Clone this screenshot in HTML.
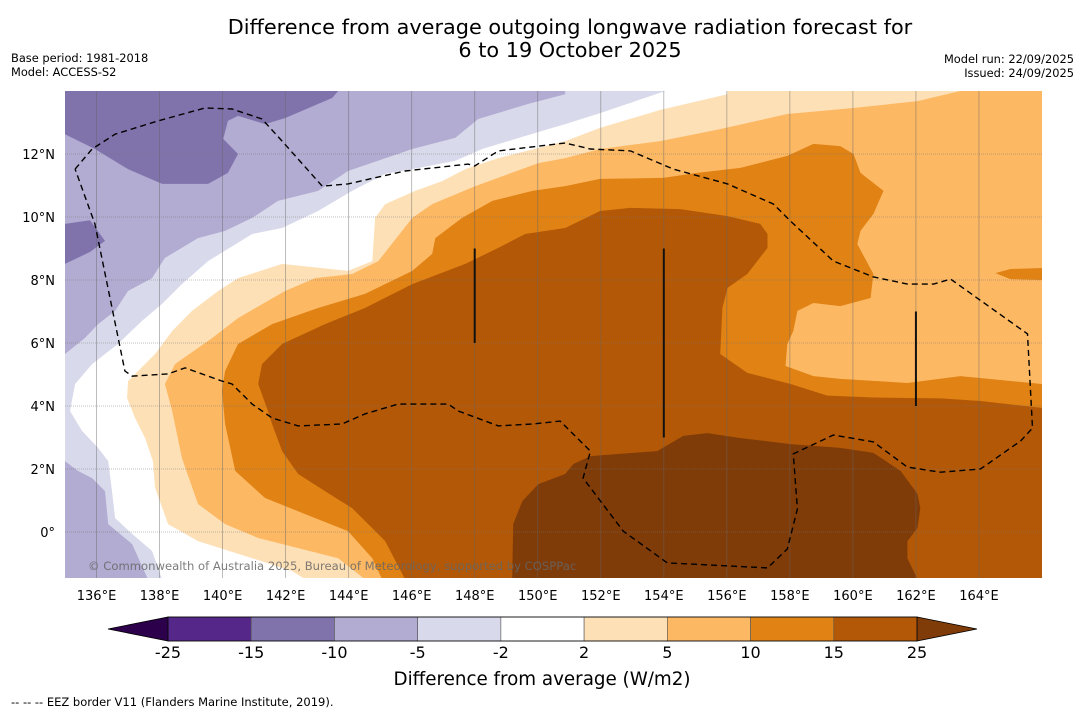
<!DOCTYPE html>
<html><head><meta charset="utf-8">
<style>
html,body{margin:0;padding:0;background:#fff;}
body{width:1085px;height:713px;overflow:hidden;font-family:"DejaVu Sans","Liberation Sans",sans-serif;}
svg text{font-family:"DejaVu Sans","Liberation Sans",sans-serif;}
</style></head>
<body>
<svg id="chart" width="1085" height="713" viewBox="0 0 1085 713" xmlns="http://www.w3.org/2000/svg">
<text x="570" y="34" font-size="20.8" text-anchor="middle" fill="#000">Difference from average outgoing longwave radiation forecast for</text>
<text x="570" y="57" font-size="20.8" text-anchor="middle" fill="#000">6 to 19 October 2025</text>
<text x="11" y="62" font-size="11.4">Base period: 1981-2018</text>
<text x="11" y="76" font-size="11.4">Model: ACCESS-S2</text>
<text x="1074" y="63" font-size="11.4" text-anchor="end">Model run: 22/09/2025</text>
<text x="1074" y="77" font-size="11.4" text-anchor="end">Issued: 24/09/2025</text>
<defs><clipPath id="mapclip"><rect x="65" y="91" width="977" height="487"/></clipPath></defs>
<g id="map" clip-path="url(#mapclip)"></g>
<g id="axes"></g>
<g id="cbar"></g>
<text x="542" y="685" font-size="18.3" text-anchor="middle">Difference from average (W/m2)</text>
<text x="11" y="706" font-size="11.5">--  --  -- EEZ border V11 (Flanders Marine Institute, 2019).</text>
</svg>
<script>
// ---- data (lon, lat) ----
const lonTicks = [136,138,140,142,144,146,148,150,152,154,156,158,160,162,164];
const latTicks = [0,2,4,6,8,10,12];
const levelLabels = ["-25","-15","-10","-5","-2","2","5","10","15","25"];
const levelColors = ["#542788","#8073ac","#b2abd2","#d8daeb","#ffffff","#fee0b6","#fdb863","#e08214","#b35806"];
const underColor = "#2d004b";
const overColor = "#7f3b08";
const baseColor = "#b2abd2";
const darkPurpleA = [[135,14],[135,12.63],[135.95,12.16],[137.0,11.52],[138.08,11.05],[139.54,11.05],[140.17,11.40],[140.49,12.0],[140.02,12.48],[140.17,13.05],[140.49,13.21],[141.35,12.95],[141.98,13.14],[143.48,13.78],[143.67,14]];
const darkPurpleB = [[135,9.78],[135.79,9.90],[136.27,9.24],[135.79,8.89],[135,8.51]];
const levelM5 = [[150.87,14],[150.87,13.90],[149.70,13.59],[148.11,13.11],[147.38,12.51],[146.02,12.16],[143.98,11.46],[143.03,10.83],[141.76,10.51],[140.94,9.97],[140.08,9.56],[139.22,9.33],[138.17,8.70],[137.76,8.06],[137.0,7.65],[136.59,7.02],[136.05,6.60],[135.63,6.16],[135,5.65],[135,2.25],[135.41,1.94],[135.86,1.71],[136.27,1.30],[136.37,0.25],[137.13,-0.38],[137.63,-1.5],[166,-1.5],[166,14]];
const levelM2 = [[154.05,14],[151.98,13.30],[150.87,12.95],[149.60,12.57],[148.24,12.16],[147.38,11.78],[146.02,11.52],[145.16,11.37],[144.11,10.83],[143.03,10.19],[141.89,9.65],[140.94,9.46],[139.54,8.60],[138.71,7.87],[138.08,7.24],[137.44,6.70],[136.68,5.97],[135.86,5.33],[135.32,4.70],[135.16,3.84],[135.54,3.21],[136.05,2.67],[136.37,2.25],[136.49,1.30],[136.59,0.44],[137.13,-0.06],[137.76,-0.60],[138.08,-1.5],[166,-1.5],[166,14]];
const levelP2 = [[156.02,14],[156.02,13.90],[153.89,13.40],[151.98,12.83],[150.87,12.41],[150.02,12.19],[148.75,11.87],[147.70,11.52],[146.97,11.14],[146.11,10.83],[145.16,10.41],[144.84,9.97],[144.75,8.60],[143.98,8.29],[141.89,8.51],[140.49,8.06],[139.86,7.65],[139.03,7.02],[138.40,6.38],[137.86,5.65],[137.0,4.79],[136.97,4.25],[137.22,3.62],[137.54,2.98],[137.79,2.25],[137.86,1.40],[138.27,0.25],[139.22,-0.29],[140.94,-0.83],[142.21,-1.24],[142.62,-1.5],[166,-1.5],[166,14]];
const levelP5 = [[163.41,14],[162.05,13.68],[160.02,13.46],[157.92,13.27],[155.79,12.79],[153.89,12.41],[151.98,12.16],[150.87,11.87],[150.02,11.71],[148.02,10.98],[146.65,10.41],[146.02,9.97],[144.94,8.60],[144.11,8.19],[142.94,8.06],[141.98,7.65],[140.49,6.79],[139.67,6.16],[138.49,5.33],[138.17,4.70],[138.40,3.84],[138.71,2.35],[139.22,0.89],[140.08,0.25],[141.13,-0.19],[142.40,-0.51],[143.67,-0.83],[144.52,-1.5],[166,-1.5],[166,14]];
const levelP10 = [[145.06,-1.5],[144.75,-0.83],[143.98,0.03],[142.62,0.57],[141.35,1.08],[140.40,1.94],[140.08,3.43],[139.98,4.48],[140.08,5.11],[140.49,5.97],[141.57,6.60],[143.03,7.11],[144.52,7.56],[146.02,8.29],[146.65,8.83],[146.75,9.33],[147.60,9.97],[148.56,10.51],[149.83,10.83],[150.87,10.98],[151.98,11.21],[153.98,11.24],[155.06,11.40],[156.43,11.56],[157.92,11.94],[158.75,12.32],[159.60,12.25],[160.02,12.0],[160.24,11.40],[160.97,10.83],[160.65,10.10],[160.24,9.56],[160.14,9.14],[160.65,8.19],[160.56,7.43],[159.60,7.17],[158.75,7.27],[158.24,7.02],[158.11,6.38],[157.92,5.97],[157.86,5.27],[158.75,4.95],[159.60,4.86],[161.73,4.73],[163.41,4.95],[166,4.70],[166,-1.5]];
const levelP10Blob = [[164.52,8.22],[165.0,8.35],[166,8.38],[166,8.0],[165.0,8.03]];
const levelP15 = [[145.79,-1.5],[145.16,-0.29],[144.11,0.76],[143.25,1.30],[142.40,1.84],[141.89,2.57],[141.57,3.43],[141.44,3.84],[141.13,4.70],[141.25,5.33],[141.89,5.97],[143.25,6.60],[144.52,7.11],[146.02,7.87],[147.70,8.51],[148.75,9.02],[149.60,9.46],[150.87,9.65],[151.98,10.19],[152.94,10.29],[154.52,10.25],[156.02,10.03],[157.06,9.78],[157.29,9.46],[157.29,9.02],[156.65,8.19],[156.02,7.75],[155.86,7.11],[155.79,5.65],[156.65,5.05],[158.02,4.70],[159.19,4.33],[160.65,4.27],[162.78,4.24],[164.05,4.16],[166,3.94],[166,-1.5]];
const levelP25 = [[149.19,-1.5],[149.22,0.25],[149.51,0.98],[150.02,1.52],[150.87,1.84],[151.13,2.16],[151.67,2.41],[153.79,2.57],[154.62,3.05],[155.38,3.14],[156.43,2.98],[158.02,2.79],[159.60,2.67],[160.65,2.51],[161.51,1.94],[162.05,1.21],[162.14,0.76],[162.05,0.13],[161.73,-0.29],[161.73,-0.83],[162.05,-1.5]];
const eezBorder = [[135.32,11.52],[135.86,12.16],[136.59,12.63],[137.95,13.05],[139.44,13.46],[140.30,13.43],[141.25,13.11],[141.89,12.41],[143.16,10.98],[143.98,11.05],[145.79,11.46],[147.79,11.68],[148.0,11.62],[148.75,12.10],[150.87,12.35],[151.67,12.16],[152.94,12.10],[154.30,11.52],[156.02,11.05],[157.48,10.41],[158.02,9.87],[159.38,8.60],[160.65,8.10],[161.73,7.87],[162.56,7.87],[163.10,8.03],[165.54,6.29],[165.70,3.30],[165.32,2.89],[164.05,2.0],[162.78,1.90],[161.73,2.06],[160.65,2.86],[159.38,3.08],[158.11,2.48],[158.24,0.73],[157.92,-0.54],[157.29,-1.14],[154.11,-0.98],[152.71,0.03],[151.44,1.71],[151.67,2.57],[150.71,3.52],[149.83,3.43],[148.75,3.37],[147.48,3.84],[147.16,4.06],[145.57,4.06],[144.52,3.75],[143.79,3.43],[142.40,3.37],[141.57,3.62],[140.94,4.06],[140.30,4.70],[139.98,4.79],[138.81,5.21],[138.27,5.02],[137.13,4.95],[136.90,5.11],[135.95,9.78],[135.32,11.52]];
const trackLines = [[148,9,6],[154,9,3],[162,7,4]];

// ---- axis functions ----
const X0=65, X1=1042, Y0=91, Y1=578;
const lonMin=135, lonMax=166, latMax=14, latMin=-1.46;
function xs(lon){return X0+(lon-lonMin)/(lonMax-lonMin)*(X1-X0);}
function ys(lat){return Y0+(latMax-lat)/(latMax-latMin)*(Y1-Y0);}
const NS="http://www.w3.org/2000/svg";
function mk(tag,attrs,parent){const e=document.createElementNS(NS,tag);for(const k in attrs)e.setAttribute(k,attrs[k]);parent.appendChild(e);return e;}
function pts(a){return a.map(p=>xs(p[0]).toFixed(1)+","+ys(p[1]).toFixed(1)).join(" ");}

const map=document.getElementById("map");
let r=mk("rect",{x:X0,y:Y0,width:X1-X0,height:Y1-Y0,fill:baseColor},map);


const layers=[
 [darkPurpleA,levelColors[1],'contour-band-minus15-to-minus10-north'],
 [darkPurpleB,levelColors[1],'contour-band-minus15-to-minus10-west'],
 [levelM5,levelColors[3],'contour-band-minus5-to-minus2'],
 [levelM2,levelColors[4],'contour-band-minus2-to-2'],
 [levelP2,levelColors[5],'contour-band-2-to-5'],
 [levelP5,levelColors[6],'contour-band-5-to-10'],
 [levelP10,levelColors[7],'contour-band-10-to-15'],
 [levelP10Blob,levelColors[7],'contour-band-10-to-15-east'],
 [levelP15,levelColors[8],'contour-band-15-to-25'],
 [levelP25,overColor,'contour-band-above-25']
];
layers.forEach(l=>{
 const p=mk("polygon",{points:pts(l[0]),fill:l[1]},map);
 
 
});
lonTicks.forEach(v=>{
 const g=mk("line",{x1:xs(v),x2:xs(v),y1:Y0,y2:Y1,stroke:"#666","stroke-width":0.8,"stroke-opacity":0.55},map);
 
 
});
latTicks.forEach(v=>{
 const g=mk("line",{x1:X0,x2:X1,y1:ys(v),y2:ys(v),stroke:"#777","stroke-width":0.8,"stroke-opacity":0.6,"stroke-dasharray":"1,1"},map);
 
 
});
const eez=mk("polyline",{points:pts(eezBorder),fill:"none",stroke:"#000","stroke-width":1.4,"stroke-dasharray":"6,4"},map);


trackLines.forEach(t=>{
 const l=mk("line",{x1:xs(t[0]),x2:xs(t[0]),y1:ys(t[1]),y2:ys(t[2]),stroke:"#111","stroke-width":2},map);
 
 
});
const cp=mk("text",{x:88,y:570,"font-size":11.6,fill:"#666","fill-opacity":0.85},map);
cp.textContent="© Commonwealth of Australia 2025, Bureau of Meteorology, supported by COSPPac";



const axes=document.getElementById("axes");
lonTicks.forEach(v=>{
 const t=mk("text",{x:xs(v),y:600,"font-size":13,"text-anchor":"middle"},axes);
 t.textContent=v+"°E";
 
 
});
latTicks.forEach(v=>{
 const t=mk("text",{x:55,y:ys(v)+5,"font-size":13,"text-anchor":"end"},axes);
 t.textContent=v===0?"0°":v+"°N";
 
 
});

const cb=document.getElementById("cbar");
const cbL=168, cbR=917, cbT=617, cbB=641, n=levelColors.length;
const bw=(cbR-cbL)/n;
function cx(i){return cbL+i*bw;}
const lt=mk("polygon",{points:`${108},${(cbT+cbB)/2} ${cbL},${cbT} ${cbL},${cbB}`,fill:underColor,stroke:"#000","stroke-width":0.8},cb);


const rt=mk("polygon",{points:`${977},${(cbT+cbB)/2} ${cbR},${cbT} ${cbR},${cbB}`,fill:overColor,stroke:"#000","stroke-width":0.8},cb);


levelColors.forEach((c,i)=>{
 const b=mk("rect",{x:cx(i),y:cbT,width:bw,height:cbB-cbT,fill:c,stroke:"#555","stroke-width":0.6},cb);
 
 
});
mk("rect",{x:cbL,y:cbT,width:cbR-cbL,height:cbB-cbT,fill:"none",stroke:"#000","stroke-width":0.8},cb);
levelLabels.forEach((s,i)=>{
 const t=mk("text",{x:cx(i),y:658,"font-size":16,"text-anchor":"middle"},cb);
 t.textContent=s;
 
 
});
</script>
</body></html>
